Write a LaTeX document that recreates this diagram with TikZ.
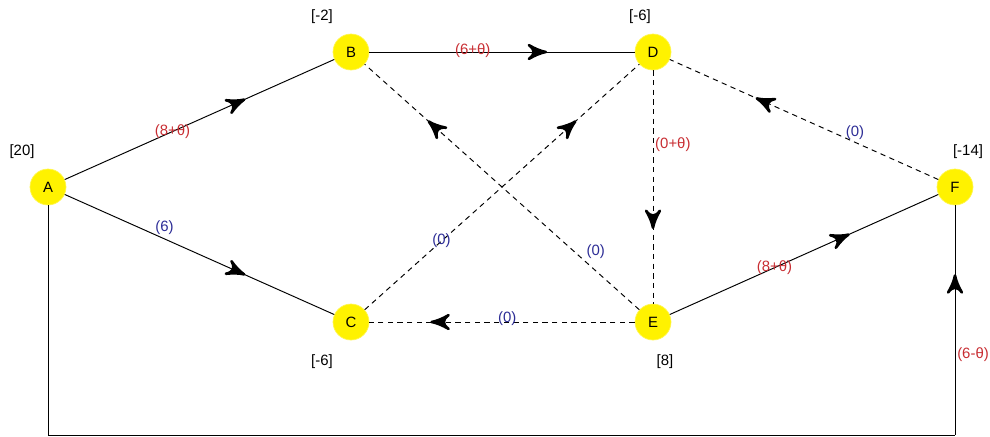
\documentclass[tikz,border=0pt]{standalone}
\usepackage{fontspec}
\setmainfont{Liberation Sans}
\usetikzlibrary{arrows}
\usetikzlibrary{decorations.markings}
\definecolor{flowred}{RGB}{200,45,50}
\definecolor{flowblue}{RGB}{45,45,150}
\begin{document}
\begin{tikzpicture}[x=0.02cm,y=-0.02cm,
  vertex/.style={circle,fill=yellow,draw=yellow!70!white,minimum size=0.72cm,inner sep=0pt,font=\fontsize{8.5}{10}\selectfont},
  potential/.style={font=\fontsize{8.5}{10}\selectfont},
  basic/.style={black,line width=0.55pt},
  nonbasic/.style={black,line width=0.55pt,dash pattern=on 3pt off 2.5pt},
  midarrow/.style={postaction={decorate,decoration={markings,mark=at position #1 with {\arrow[scale=2.7]{stealth'}}}}},
  flowred/.style={text=flowred,font=\fontsize{8.5}{10}\selectfont,inner sep=1pt},
  flowblue/.style={text=flowblue,font=\fontsize{8.5}{10}\selectfont,inner sep=1pt}]
\useasboundingbox (0,0) rectangle (990,436);
% nodes
\node[vertex] (A) at (48,187) {A};
\node[vertex] (B) at (351,52) {B};
\node[vertex] (D) at (653,52) {D};
\node[vertex] (C) at (351,322) {C};
\node[vertex] (E) at (653,322) {E};
\node[vertex] (F) at (955,187) {F};
% potentials
\node[potential] at (22,152) {[20]};
\node[potential] at (322,17) {[-2]};
\node[potential] at (640,17) {[-6]};
\node[potential] at (968,152) {[-14]};
\node[potential] at (322,362) {[-6]};
\node[potential] at (665,362) {[8]};
% basic arcs
\draw[basic,midarrow=0.67] (A) -- node[flowred,pos=0.4] {(8+θ)} (B);
\draw[basic,midarrow=0.67] (A) -- node[flowblue,pos=0.37,above=1pt] {(6)} (C);
\draw[basic,midarrow=0.67] (B) -- node[flowred,pos=0.39,yshift=1pt] {(6+θ)} (D);
\draw[basic,midarrow=0.67] (E) -- node[flowred,pos=0.39] {(8+θ)} (F);
\coordinate (AL) at (48,435);
\coordinate (FL) at (955,435);
\draw[basic] (A) -- (AL) -- (FL);
\draw[basic,midarrow=0.7] (FL) -- node[flowred,pos=0.35,right=0pt] {(6-θ)} (F);
% non-basic arcs
\draw[nonbasic,midarrow=0.68] (D) -- node[flowred,pos=0.32,right=0pt] {(0+θ)} (E);
\draw[nonbasic,midarrow=0.68] (F) -- node[flowblue,pos=0.31,above=0pt] {(0)} (D);
\draw[nonbasic,midarrow=0.77] (C) -- node[flowblue,pos=0.28] {(0)} (D);
\draw[nonbasic,midarrow=0.77] (E) -- node[flowblue,pos=0.2,above right=0pt] {(0)} (B);
\draw[nonbasic,midarrow=0.77] (E) -- node[flowblue,pos=0.48,yshift=2pt] {(0)} (C);
\end{tikzpicture}
\end{document}
